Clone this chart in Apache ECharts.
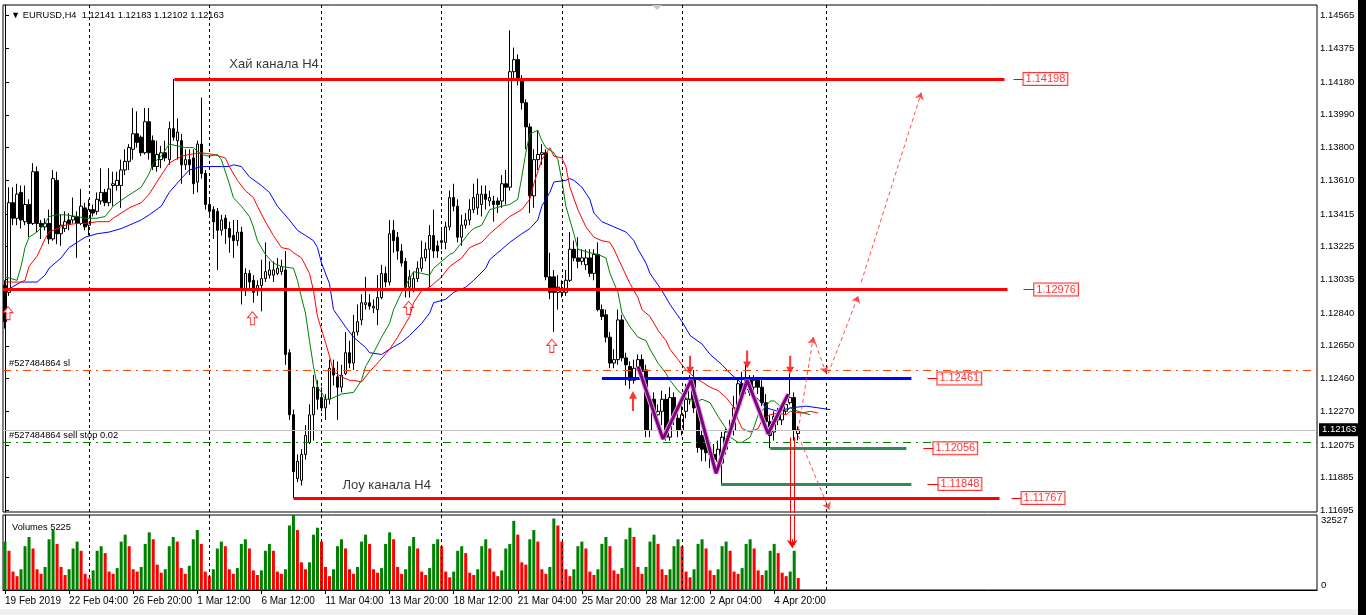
<!DOCTYPE html>
<html><head><meta charset="utf-8">
<script src="https://cdn.jsdelivr.net/npm/echarts@6/dist/echarts.min.js"></script>
<style>html,body{margin:0;padding:0;background:#fff;}#c{width:1366px;height:615px;}</style>
</head><body><div id="c"></div><script>
// ---------- DATA ----------
const symbolName = 'EURUSD,H4';
const opens = [1.1300,1.1296,1.1348,1.1339,1.1354,1.1337,1.1347,1.1336,1.1366,1.1336,1.1334,1.1336,1.1327,1.1361,1.1330,1.1333,1.1338,1.1338,1.1340,1.1336,
1.1345,1.1335,1.1344,1.1343,1.1349,1.1354,1.1348,1.1358,1.1358,1.1358,1.1367,1.1372,1.1379,1.1388,1.1386,1.1377,1.1395,1.1384,1.1369,1.1373,
1.1377,1.1373,1.1391,1.1384,1.1384,1.1370,1.1373,1.1374,1.1360,1.1382,1.1365,1.1347,1.1344,1.1343,1.1332,1.1339,1.1333,1.1329,1.1326,1.1331,
1.1297,1.1307,1.1303,1.1297,1.1300,1.1304,1.1306,1.1306,1.1307,1.1308,1.1309,1.1261,1.1225,1.1188,1.1187,1.1202,1.1209,1.1225,1.1241,1.1235,
1.1229,1.1234,1.1252,1.1247,1.1241,1.1249,1.1261,1.1255,1.1273,1.1280,1.1289,1.1290,1.1287,1.1286,1.1293,1.1307,1.1302,1.1332,1.1328,1.1320,
1.1314,1.1299,1.1298,1.1304,1.1310,1.1316,1.1321,1.1329,1.1323,1.1325,1.1325,1.1334,1.1351,1.1346,1.1328,1.1335,1.1338,1.1344,1.1345,1.1347,
1.1353,1.1349,1.1349,1.1349,1.1349,1.1359,1.1357,1.1424,1.1431,1.1419,1.1406,1.1392,1.1352,1.1373,1.1376,1.1377,1.1305,1.1305,1.1296,1.1296,
1.1296,1.1303,1.1321,1.1316,1.1314,1.1312,1.1316,1.1307,1.1318,1.1286,1.1283,1.1270,1.1255,1.1257,1.1280,1.1258,1.1253,1.1245,1.1252,1.1257,
1.1251,1.1216,1.1234,1.1225,1.1227,1.1234,1.1212,1.1235,1.1223,1.1216,1.1227,1.1234,1.1246,1.1229,1.1213,1.1212,1.1205,1.1202,1.1198,1.1197,
1.1205,1.1215,1.1216,1.1229,1.1243,1.1241,1.1245,1.1241,1.1245,1.1241,1.1232,1.1221,1.1215,1.1222,1.1222,1.1227,1.1232,1.1235,1.12141];
const closes = [1.1279,1.1348,1.1339,1.1353,1.1338,1.1347,1.1336,1.1366,1.1336,1.1334,1.1336,1.1327,1.1362,1.1330,1.1335,1.1337,1.1336,1.1340,1.1336,1.1346,
1.1334,1.1344,1.1342,1.1350,1.1354,1.1348,1.1356,1.1359,1.1361,1.1367,1.1372,1.1380,1.1388,1.1383,1.1377,1.1395,1.1377,1.1369,1.1376,1.1377,
1.1374,1.1391,1.1386,1.1389,1.1370,1.1373,1.1370,1.1359,1.1382,1.1365,1.1347,1.1343,1.1337,1.1332,1.1338,1.1333,1.1328,1.1326,1.1331,1.1297,
1.1307,1.1302,1.1296,1.1300,1.1304,1.1308,1.1309,1.1309,1.1310,1.1311,1.1260,1.1225,1.1192,1.1198,1.1202,1.1213,1.1225,1.1241,1.1234,1.1229,
1.1234,1.1252,1.1248,1.1241,1.1248,1.1261,1.1255,1.1273,1.1279,1.1290,1.1290,1.1288,1.1288,1.1293,1.1307,1.1302,1.1330,1.1326,1.1320,1.1313,
1.1299,1.1305,1.1304,1.1310,1.1316,1.1321,1.1329,1.1320,1.1320,1.1326,1.1334,1.1351,1.1346,1.1328,1.1335,1.1338,1.1344,1.1351,1.1353,1.1353,
1.1350,1.1351,1.1347,1.1347,1.1359,1.1357,1.1424,1.1431,1.1419,1.1406,1.1392,1.1352,1.1373,1.1376,1.1377,1.1305,1.1296,1.1296,1.1299,1.1297,
1.1303,1.1321,1.1316,1.1314,1.1316,1.1316,1.1307,1.1318,1.1286,1.1282,1.1270,1.1255,1.1257,1.1280,1.1258,1.1254,1.1245,1.1252,1.1257,1.1250,
1.1216,1.1234,1.1227,1.1227,1.1234,1.1212,1.1235,1.1224,1.1216,1.1225,1.1234,1.1245,1.1229,1.1206,1.1205,1.1203,1.1202,1.1199,1.1205,1.1212,
1.1215,1.1216,1.1229,1.1243,1.1235,1.1245,1.1238,1.1245,1.1241,1.1232,1.1221,1.1213,1.1224,1.1226,1.1228,1.1231,1.1235,1.1216,1.12163];
const lows = [1.1275,1.1294,1.1335,1.1335,1.1333,1.1335,1.1328,1.1335,1.1331,1.1327,1.1332,1.1324,1.1326,1.1324,1.1323,1.1331,1.1332,1.1336,1.1316,1.1335,
1.1332,1.1329,1.1340,1.1341,1.1347,1.1346,1.1346,1.1346,1.1355,1.1345,1.1364,1.1367,1.1373,1.1380,1.1375,1.1376,1.1373,1.1367,1.1366,1.1368,
1.1372,1.1370,1.1384,1.1373,1.1359,1.1367,1.1364,1.1353,1.1354,1.1362,1.1344,1.1341,1.1327,1.1309,1.1329,1.1324,1.1319,1.1316,1.1323,1.1289,
1.1294,1.1298,1.1290,1.1294,1.1285,1.1302,1.1304,1.1302,1.1306,1.1306,1.1254,1.1222,1.11767,1.1186,1.1184,1.1199,1.1208,1.1210,1.1228,1.1227,
1.1222,1.1231,1.1242,1.1222,1.1238,1.1248,1.1252,1.1251,1.1271,1.1277,1.1286,1.1286,1.1284,1.1277,1.1292,1.1299,1.1300,1.1319,1.1315,1.1311,
1.1293,1.1293,1.1296,1.1302,1.1308,1.1314,1.1299,1.1316,1.1316,1.1321,1.1321,1.1332,1.1343,1.1325,1.1323,1.1333,1.1335,1.1342,1.1341,1.1340,
1.1344,1.1346,1.1337,1.1342,1.1345,1.1347,1.1355,1.1419,1.1416,1.1402,1.1379,1.1342,1.1345,1.1367,1.1370,1.1303,1.1292,1.1273,1.1286,1.1293,
1.1294,1.1302,1.1314,1.1310,1.1312,1.1309,1.1305,1.1303,1.1285,1.1280,1.1267,1.1252,1.1252,1.1254,1.1256,1.1242,1.1240,1.1243,1.1250,1.1245,
1.1212,1.1212,1.1223,1.1222,1.1219,1.1210,1.1210,1.1219,1.1212,1.1213,1.1223,1.1231,1.1226,1.1203,1.1198,1.1198,1.1194,1.1193,1.1196,1.11848,
1.1202,1.1210,1.1213,1.1228,1.1231,1.1237,1.1236,1.1238,1.1237,1.1230,1.1217,1.12056,1.1210,1.1219,1.1219,1.1225,1.1231,1.1210,1.12102];
const highs = [1.1303,1.1357,1.1357,1.1359,1.1358,1.1358,1.1350,1.1371,1.1369,1.1338,1.1339,1.1344,1.1367,1.1366,1.1341,1.1343,1.1342,1.1351,1.1343,1.1356,
1.1348,1.1350,1.1347,1.1354,1.1368,1.1356,1.1368,1.1366,1.1366,1.1373,1.1379,1.1382,1.1403,1.1401,1.1387,1.1403,1.1403,1.1387,1.1384,1.1381,
1.1384,1.1395,1.14198,1.1397,1.1388,1.1379,1.1379,1.1379,1.1384,1.1409,1.1367,1.1350,1.1346,1.1345,1.1341,1.1341,1.1337,1.1338,1.1338,1.1334,
1.1310,1.1309,1.1306,1.1303,1.1315,1.1325,1.1314,1.1314,1.1316,1.1315,1.1320,1.1263,1.1228,1.1202,1.1205,1.1219,1.1231,1.1248,1.1245,1.1241,
1.1237,1.1257,1.1257,1.1256,1.1254,1.1273,1.1268,1.1283,1.1289,1.1295,1.1305,1.1295,1.1292,1.1306,1.1312,1.1311,1.1338,1.1338,1.1331,1.1324,
1.1316,1.1309,1.1308,1.1314,1.1326,1.1325,1.1335,1.1344,1.1326,1.1332,1.1337,1.1355,1.1359,1.1350,1.1341,1.1342,1.1350,1.1359,1.1362,1.1358,
1.1358,1.1355,1.1352,1.1351,1.1364,1.1367,1.1448,1.1438,1.1434,1.1422,1.1408,1.1394,1.1379,1.1390,1.1382,1.1379,1.1319,1.1309,1.1306,1.1303,
1.1309,1.1331,1.1326,1.1328,1.1321,1.1321,1.1321,1.1321,1.1325,1.1289,1.1286,1.1273,1.1263,1.1286,1.1283,1.1261,1.1256,1.1257,1.1260,1.1260,
1.1254,1.1237,1.1238,1.1231,1.1239,1.1237,1.1241,1.1238,1.1228,1.1234,1.1243,1.1248,1.1251,1.1231,1.1216,1.1215,1.1210,1.1208,1.1210,1.1215,
1.1217,1.1222,1.1236,1.1246,1.1250,1.1254,1.1248,1.1248,1.1247,1.1245,1.1237,1.1225,1.1227,1.1229,1.1231,1.1235,1.1249,1.1238,1.12183];
// tick volumes, estimated from the volume pane
const volumes = [21000,17000,8000,
6000,9000,19000,23000,18000,9000,
7000,10000,22000,26000,20000,10000,
6500,9000,18000,21000,17000,7000,
5000,8500,17000,19000,16000,8000,
7000,9500,21000,24000,19000,9000,
8000,10000,20000,25000,22000,11000,
7500,9000,19000,23000,21000,9500,
7000,10500,22000,26000,20000,8000,
6000,9000,18000,21000,19000,9000,
7000,9500,20000,22000,18000,8500,
6500,8500,17000,20000,17000,8000,
7000,9000,28000,32527,26000,12000,
9000,12000,24000,27000,21000,10000,
6000,9000,19000,22000,18000,9000,
7000,10000,21000,24000,20000,9000,
7500,9500,20000,25000,22000,10000,
7000,9000,19000,23000,18000,8000,
6500,9500,20000,22000,19000,8000,
5500,8000,17000,19000,16000,7500,
6500,9000,19000,22000,18000,8000,
6000,8500,18000,20000,30000,24000,
12000,11000,22000,26000,21000,9000,
7000,10000,31000,28000,21000,9000,
6000,9000,19000,21000,18000,8000,
6500,9000,20000,23000,19000,8500,
7000,9500,22000,27000,23000,10000,
7000,10000,21000,24000,20000,9000,
6500,9000,19000,22000,19000,8000,
5500,9000,20000,22000,18000,8500,
6500,9000,19000,21000,17000,8000,
7000,9500,20000,22000,18000,8500,
6500,8500,17000,20000,16000,7500,
6000,8000,17000,5225];
const volumeMax = 32527;

// Alligator lines: [bar index, price]
const jaw = [[1,1.1298],[4,1.1302],[8,1.1302],[10,1.1306],[11,1.1310],[14,1.1316],[16,1.1322],[18,1.1325],[20,1.1328],[23,1.1330],[26,1.1331],[29,1.1333],[31,1.1335],[34,1.1338],[36,1.1341],[39,1.1346],[41,1.1354],[44,1.1362],[46,1.1367],[49,1.1369],[51,1.1369],[54,1.1369],[56,1.1369],[57,1.1370],[59,1.1369],[61,1.1363],[64,1.1358],[66,1.1354],[68,1.1346],[71,1.1338],[73,1.1332],[75,1.1329],[77,1.1326],[78,1.1322],[79,1.1313],[81,1.1301],[82,1.1286],[85,1.1276],[87,1.1270],[90,1.1264],[91,1.1261],[94,1.1260],[96,1.1263],[99,1.1267],[101,1.1271],[104,1.1278],[106,1.1284],[107,1.1290],[110,1.1292],[112,1.1296],[115,1.1299],[117,1.1303],[120,1.1310],[121,1.1315],[124,1.1321],[126,1.1325],[129,1.1330],[131,1.1333],[133,1.1338],[134,1.1346],[136,1.1354],[137,1.1360],[140,1.1361],[141,1.1362],[142,1.1361],[144,1.1357],[146,1.1350],[147,1.1342],[149,1.1337],[152,1.1334],[155,1.1331],[157,1.1326],[158,1.1321],[160,1.1313],[161,1.1307],[164,1.1297],[166,1.1289],[169,1.1279],[171,1.1271],[174,1.1266],[176,1.1260],[179,1.1254],[181,1.1249],[184,1.1243],[186,1.1238],[188,1.1234],[190,1.1229],[193,1.1227],[196,1.1229],[200,1.1230],[206,1.1228]];
const teeth = [[0,1.1302],[4,1.1302],[5,1.1303],[6,1.1311],[8,1.1317],[9,1.1322],[10,1.1327],[11,1.1331],[13,1.1333],[15,1.1335],[18,1.1336],[20,1.1336],[23,1.1337],[26,1.1337],[27,1.1339],[29,1.1342],[31,1.1345],[34,1.1348],[36,1.1353],[39,1.1364],[41,1.1371],[44,1.1375],[46,1.1376],[49,1.1377],[52,1.1376],[55,1.1374],[56,1.1369],[58,1.1361],[60,1.1355],[62,1.1351],[63,1.1346],[65,1.1337],[67,1.1329],[69,1.1322],[71,1.1321],[72,1.1319],[74,1.1316],[76,1.1307],[77,1.1297],[78,1.1282],[80,1.1267],[81,1.1259],[82,1.1250],[84,1.1247],[86,1.1245],[87,1.1245],[89,1.1244],[91,1.1250],[93,1.1255],[96,1.1263],[98,1.1270],[101,1.1282],[102,1.1290],[104,1.1297],[106,1.1299],[109,1.1305],[111,1.1311],[114,1.1316],[116,1.1322],[119,1.1325],[121,1.1330],[124,1.1336],[126,1.1340],[129,1.1344],[131,1.1350],[132,1.1359],[134,1.1373],[136,1.1380],[137,1.1375],[139,1.1374],[140,1.1369],[141,1.1357],[143,1.1344],[145,1.1334],[147,1.1328],[149,1.1326],[151,1.1325],[152,1.1321],[154,1.1311],[156,1.1301],[158,1.1293],[159,1.1286],[161,1.1282],[163,1.1274],[165,1.1268],[166,1.1263],[168,1.1257],[170,1.1251],[172,1.1247],[174,1.1244],[176,1.1241],[178,1.1239],[180,1.1235],[182,1.1229],[183,1.1222],[184,1.1217],[186,1.1215],[188,1.1217],[189,1.1222],[191,1.1225],[193,1.1226],[195,1.1225],[196,1.1227],[199,1.1226],[201,1.1227],[203,1.1226]];
const lips = [[0,1.1305],[3,1.1303],[4,1.1311],[5,1.1322],[6,1.1328],[8,1.1331],[10,1.1336],[11,1.1340],[13,1.1341],[15,1.1341],[18,1.1340],[20,1.1339],[23,1.1339],[25,1.1340],[27,1.1346],[30,1.1351],[34,1.1357],[36,1.1365],[37,1.1371],[39,1.1375],[41,1.1382],[45,1.1380],[47,1.1380],[49,1.1376],[51,1.1375],[53,1.1376],[54,1.1373],[56,1.1359],[57,1.1351],[59,1.1346],[61,1.1340],[62,1.1334],[63,1.1326],[65,1.1318],[67,1.1313],[69,1.1311],[72,1.1310],[73,1.1303],[74,1.1293],[75,1.1284],[76,1.1268],[77,1.1253],[78,1.1241],[79,1.1238],[80,1.1234],[81,1.1234],[84,1.1237],[87,1.1238],[89,1.1245],[90,1.1253],[92,1.1261],[94,1.1270],[96,1.1278],[97,1.1286],[99,1.1296],[101,1.1304],[102,1.1308],[104,1.1307],[106,1.1306],[107,1.1310],[109,1.1314],[111,1.1318],[112,1.1319],[114,1.1325],[116,1.1331],[117,1.1333],[119,1.1335],[121,1.1344],[124,1.1346],[126,1.1347],[128,1.1350],[129,1.1363],[130,1.1377],[131,1.1388],[133,1.1390],[134,1.1384],[135,1.1380],[137,1.1377],[138,1.1373],[139,1.1361],[140,1.1346],[142,1.1330],[143,1.1321],[146,1.1319],[148,1.1318],[150,1.1316],[151,1.1307],[153,1.1296],[154,1.1284],[156,1.1276],[158,1.1270],[160,1.1268],[161,1.1263],[163,1.1255],[165,1.1249],[166,1.1245],[168,1.1239],[170,1.1235],[171,1.1233],[173,1.1233],[174,1.1234],[176,1.1232],[178,1.1224],[180,1.1217],[181,1.1212],[183,1.1209],[184,1.1209],[186,1.1212],[187,1.1218],[188,1.1225],[190,1.1230],[191,1.1233],[192,1.1233],[193,1.1231],[195,1.1227],[196,1.1229],[198,1.1227],[201,1.1225]];

// drawn objects
const levelPrices = [1.14198, 1.12976, 1.12461, 1.12056, 1.11848, 1.11767];
const slPrice = 1.12510, sellStopPrice = 1.12092;
const orderId = '#527484864';
const channelHighText = 'Хай канала H4', channelLowText = 'Лоу канала H4';
const zigzag = [[158,1.1253],[164.25,1.1211],[171.25,1.1245],[177.5,1.1191],[185.25,1.1245],[190.5,1.1214],[195.5,1.1237]];
const projection = [[[198,1.1216],[201.75,1.1270]],[[201.75,1.1270],[205,1.1249]],[[205.5,1.1249],[213,1.1294]],[[213.75,1.1302],[228.75,1.1412]],[[198,1.1213],[205.75,1.1170]]];
const hollowUpArrows = [[0.75,1.1284],[61.75,1.1281],[100.75,1.1287],[136.5,1.1265]];
const downArrows = [[171,1.1254],[185.25,1.1257],[196,1.1254]];
const upArrows = [[156.75,1.1233]];
const weekStarts = [21, 51, 79, 109, 139, 169, 205];
const priceTicks = [1.14565,1.14375,1.14180,1.13990,1.13800,1.13610,1.13415,1.13225,1.13035,1.12840,1.12650,1.12460,1.12270,1.12075,1.11885,1.11695];
const timeLabels = ['19 Feb 2019','22 Feb 04:00','26 Feb 20:00','1 Mar 12:00','6 Mar 12:00','11 Mar 04:00','13 Mar 20:00','18 Mar 12:00','21 Mar 04:00','25 Mar 20:00','28 Mar 12:00','2 Apr 04:00','4 Apr 20:00'];
const labelEvery = 16;

// ---------- LAYOUT ----------
const SLOTS = 328;
const FONT = 'Liberation Sans';
// level line extents in bar units: [start, end, tickStart, boxAt, color]
const levelLayout = [
  [42.25, 249.5, 251.75, 254.25, '#ff0000'],
  [-0.5, 250.25, 254.25, 256.9, '#ff0000'],
  [149, 226.25, 230.25, 232.75, '#0000ff'],
  [191, 225, 229.25, 231.75, '#2e8b57'],
  [178.75, 226.25, 230.25, 233, '#2e8b57'],
  [72, 248.25, 251.25, 253.75, '#ff0000']
];

const cats = Array.from({length: SLOTS}, (_, k) => String(k));
const kData = opens.map((o, k) => [o, closes[k], lows[k], highs[k]]);
const last = opens.length - 1;
const showLbl = (idx) => idx % labelEvery === 0 && idx / labelEvery < timeLabels.length;

const chart = echarts.init(document.getElementById('c'), null, {renderer: 'canvas'});
const levelLines = [], levelTicks = [], levelBoxes = [];
levelPrices.forEach((p, k) => {
  const L = levelLayout[k];
  levelLines.push({coords: [[L[0], p], [L[1], p]], lineStyle: {color: L[4], width: 3, opacity: 1}});
  levelTicks.push({coords: [[L[2], p], [L[3], p]]});
  levelBoxes.push({value: [L[3], p], name: p.toFixed(5)});
});

const option = {
  animation: false,
  backgroundColor: '#fff',
  textStyle: {fontFamily: FONT},
  title: [
    {text: '▼ ' + symbolName + '  ' + [opens[last], highs[last], lows[last], closes[last]].map(v => v.toFixed(5)).join(' '),
     left: 6, top: 6, textStyle: {fontSize: 9.3, fontWeight: 'normal', color: '#000', fontFamily: FONT}},
    {text: 'Volumes ' + volumes[last], left: 7, top: 518, textStyle: {fontSize: 9.3, fontWeight: 'normal', color: '#000', fontFamily: FONT}}
  ],
  grid: [
    {left: 3, right: 49, top: 5, bottom: 103, show: true, borderColor: '#000', borderWidth: 1, backgroundColor: '#fff'},
    {left: 3, right: 49, top: 515, bottom: 25, show: true, borderColor: '#000', borderWidth: 1, backgroundColor: '#fff'}
  ],
  xAxis: [
    {type: 'category', gridIndex: 0, data: cats, boundaryGap: true, axisLine: {show: false}, axisTick: {show: false}, axisLabel: {show: false}, splitLine: {show: false}},
    {type: 'value', gridIndex: 0, min: -0.5, max: SLOTS - 0.5, show: false},
    {type: 'category', gridIndex: 1, data: cats, boundaryGap: true,
     axisLine: {show: true, lineStyle: {color: '#000'}},
     axisTick: {show: true, alignWithLabel: true, interval: showLbl, length: 4, lineStyle: {color: '#000'}},
     axisLabel: {show: true, interval: showLbl, align: 'left', margin: 6, fontSize: 10, color: '#000', fontFamily: FONT,
       formatter: (v) => timeLabels[Number(v) / labelEvery]}, splitLine: {show: false}},
    {type: 'value', gridIndex: 1, min: -0.5, max: SLOTS - 0.5, show: false}
  ],
  yAxis: [
    {type: 'value', gridIndex: 0, position: 'right', min: 1.11686, max: 1.14627,
     axisLine: {show: true, lineStyle: {color: '#000'}},
     axisTick: {show: true, length: 4, customValues: priceTicks, lineStyle: {color: '#000'}},
     axisLabel: {show: true, customValues: priceTicks, formatter: v => v.toFixed(5), fontSize: 9.5, color: '#000', margin: 3, fontFamily: FONT},
     splitLine: {show: false}},
    {type: 'value', gridIndex: 1, position: 'right', min: 0, max: volumeMax,
     axisLine: {show: true, lineStyle: {color: '#000'}}, axisTick: {show: false},
     axisLabel: {show: true, customValues: [volumeMax], formatter: v => String(v), verticalAlign: 'top', fontSize: 9.5, color: '#000', margin: 4, fontFamily: FONT},
     splitLine: {show: false}},
    {type: 'value', gridIndex: 1, position: 'right', min: 0, max: volumeMax,
     axisLine: {show: false}, axisTick: {show: false},
     axisLabel: {show: true, customValues: [0], formatter: v => String(v), verticalAlign: 'bottom', fontSize: 9.5, color: '#000', margin: 4, fontFamily: FONT},
     splitLine: {show: false}}
  ],
  graphic: [
    {type: 'rect', shape: {x: 1358, y: 0, width: 8, height: 615}, style: {fill: '#000'}, z: 100},
    {type: 'rect', shape: {x: 0, y: 609, width: 1358, height: 6}, style: {fill: '#f0f0f0'}, z: 100},
    {type: 'polygon', shape: {points: [[652, 5], [662, 5], [657, 10]]}, style: {fill: '#c8c8c8'}, z: 100}
  ],
  series: [
    // horizontal order lines & current price
    {type: 'line', xAxisIndex: 1, yAxisIndex: 0, data: [], silent: true, z: 1,
     markLine: {silent: true, precision: 5, symbol: ['none', 'none'], animation: false, data: [
       {yAxis: closes[last], lineStyle: {color: '#c0c0c0', type: 'solid', width: 1},
        label: {show: true, position: 'end', distance: 2, formatter: closes[last].toFixed(5), backgroundColor: '#000', color: '#fff', padding: [2, 3, 1, 3], fontSize: 9.5, fontFamily: FONT}},
       {yAxis: slPrice, lineStyle: {color: '#ff4500', type: [8, 5, 2, 5], width: 1},
        label: {show: true, position: 'insideStartTop', distance: [6, 2], formatter: orderId + ' sl', color: '#000', fontSize: 9.3, fontFamily: FONT}},
       {yAxis: sellStopPrice, lineStyle: {color: '#008000', type: [8, 5, 2, 5], width: 1},
        label: {show: true, position: 'insideStartTop', distance: [6, 2], formatter: orderId + ' sell stop 0.02', color: '#000', fontSize: 9.3, fontFamily: FONT}}
     ]}},
    // weekly separators
    {type: 'line', xAxisIndex: 1, yAxisIndex: 0, data: [], silent: true, z: 1,
     markLine: {silent: true, precision: 3, symbol: ['none', 'none'], label: {show: false}, lineStyle: {color: '#000', type: [3, 3], width: 1},
       data: weekStarts.map(v => ({xAxis: v}))}},
    {type: 'line', xAxisIndex: 3, yAxisIndex: 1, data: [], silent: true, z: 1,
     markLine: {silent: true, precision: 3, symbol: ['none', 'none'], label: {show: false}, lineStyle: {color: '#000', type: [3, 3], width: 1},
       data: weekStarts.map(v => ({xAxis: v}))}},
    // candles
    {type: 'candlestick', xAxisIndex: 0, yAxisIndex: 0, data: kData, barWidth: 3, z: 3,
     itemStyle: {color: '#fff', color0: '#000', borderColor: '#000', borderColor0: '#000', borderWidth: 1}},
    // alligator
    {type: 'line', xAxisIndex: 1, yAxisIndex: 0, data: jaw, showSymbol: false, lineStyle: {color: '#0000ff', width: 1}, z: 4, silent: true},
    {type: 'line', xAxisIndex: 1, yAxisIndex: 0, data: teeth, showSymbol: false, lineStyle: {color: '#ff0000', width: 1}, z: 4, silent: true},
    {type: 'line', xAxisIndex: 1, yAxisIndex: 0, data: lips, showSymbol: false, lineStyle: {color: '#008000', width: 1}, z: 4, silent: true},
    // level lines
    {type: 'lines', coordinateSystem: 'cartesian2d', xAxisIndex: 1, yAxisIndex: 0, data: levelLines, lineStyle: {opacity: 1}, z: 5, silent: true},
    {type: 'lines', coordinateSystem: 'cartesian2d', xAxisIndex: 1, yAxisIndex: 0, data: levelTicks, lineStyle: {color: '#ff0000', width: 1, opacity: 1}, z: 5, silent: true},
    {type: 'scatter', xAxisIndex: 1, yAxisIndex: 0, data: levelBoxes, symbolSize: 0, z: 6, silent: true,
     label: {show: true, position: 'right', distance: 0, formatter: p => p.name, color: '#ff0000', fontSize: 11, fontFamily: FONT,
       backgroundColor: '#fff', borderColor: '#ff0000', borderWidth: 1, padding: [1, 2, 0, 2]}},
    // channel texts
    {type: 'scatter', xAxisIndex: 1, yAxisIndex: 0, symbolSize: 0, z: 6, silent: true,
     data: [{value: [56, 1.1428], name: channelHighText}, {value: [84.25, 1.1184], name: channelLowText}],
     label: {show: true, position: 'right', distance: 0, formatter: p => p.name, color: '#000', fontSize: 13, fontFamily: FONT}},
    // zigzag
    {type: 'line', xAxisIndex: 1, yAxisIndex: 0, data: zigzag, showSymbol: false, lineStyle: {color: '#d6a8d6', width: 5}, z: 7, silent: true},
    {type: 'line', xAxisIndex: 1, yAxisIndex: 0, data: zigzag, showSymbol: false, lineStyle: {color: '#800080', width: 3}, z: 7, silent: true},
    // projection dashed arrows
    {type: 'lines', coordinateSystem: 'cartesian2d', xAxisIndex: 1, yAxisIndex: 0, z: 8, silent: true,
     data: projection.map(c => ({coords: c})), symbol: ['none', 'arrow'], symbolSize: 7,
     lineStyle: {color: '#ff3030', width: 1, type: [4, 3], opacity: 0.85}},
    // vertical red double arrow (main pane part)
    {type: 'lines', coordinateSystem: 'cartesian2d', xAxisIndex: 1, yAxisIndex: 0, z: 8, silent: true,
     data: [{coords: [[196.1, 1.1212], [196.1, 1.1168]]}, {coords: [[196.9, 1.1212], [196.9, 1.1168]]}],
     lineStyle: {color: '#ff0000', width: 1, opacity: 1}},
    // arrows
    {type: 'scatter', xAxisIndex: 1, yAxisIndex: 0, data: hollowUpArrows, z: 9, silent: true,
     symbol: 'path://M5,0 L10,6 L7,6 L7,13 L3,13 L3,6 L0,6 Z', symbolSize: [10, 13],
     itemStyle: {color: '#fff', borderColor: '#ff0000', borderWidth: 1}},
    {type: 'scatter', xAxisIndex: 1, yAxisIndex: 0, data: downArrows, z: 9, silent: true,
     symbol: 'path://M3,0 L5,0 L5,11 L8,11 L4,18 L0,11 L3,11 Z', symbolSize: [8, 18], itemStyle: {color: '#ff0000'}},
    {type: 'scatter', xAxisIndex: 1, yAxisIndex: 0, data: upArrows, z: 9, silent: true,
     symbol: 'path://M4,0 L8,7 L5,7 L5,18 L3,18 L3,7 L0,7 Z', symbolSize: [8, 20], itemStyle: {color: '#ff0000'}},
    // volumes
    {type: 'bar', xAxisIndex: 2, yAxisIndex: 1, data: volumes, barWidth: 3, z: 3, silent: true,
     itemStyle: {color: p => (p.dataIndex === 0 || volumes[p.dataIndex] > volumes[p.dataIndex - 1]) ? '#008000' : '#ff0000'}},
    {type: 'lines', coordinateSystem: 'cartesian2d', xAxisIndex: 3, yAxisIndex: 1, z: 8, silent: true,
     data: [{coords: [[196.1, volumeMax], [196.1, 19500]]}, {coords: [[196.9, volumeMax], [196.9, 19500]]},
            {coords: [[196.5, 22000], [196.5, 18200]], symbol: ['none', 'arrow'], symbolSize: 8}],
     lineStyle: {color: '#ff0000', width: 1, opacity: 1}}
  ]
};
chart.setOption(option);
</script></body></html>
